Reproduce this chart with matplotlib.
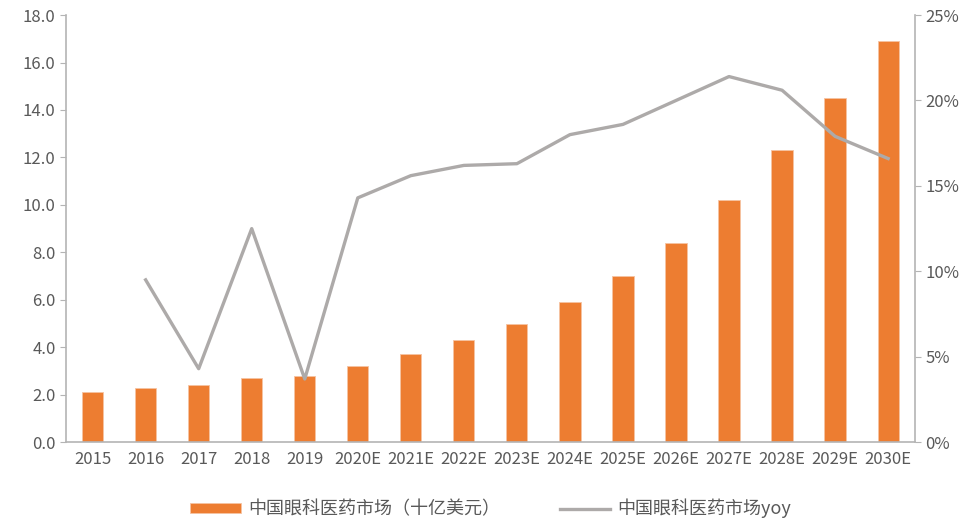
import matplotlib.pyplot as plt
import numpy as np
from matplotlib.ticker import FuncFormatter

plt.rcParams['font.family'] = ['Noto Sans CJK SC', 'DejaVu Sans']

years = ['2015', '2016', '2017', '2018', '2019', '2020E', '2021E', '2022E',
         '2023E', '2024E', '2025E', '2026E', '2027E', '2028E', '2029E', '2030E']
market = [2.1, 2.3, 2.4, 2.7, 2.8, 3.2, 3.7, 4.3, 5.0, 5.9, 7.0, 8.4, 10.2, 12.3, 14.5, 16.9]
# 同比增速(%)，2015年无数据
yoy = [np.nan, 9.5, 4.3, 12.5, 3.7, 14.3, 15.6, 16.2, 16.3, 18.0, 18.6, 20.0, 21.4, 20.6, 17.9, 16.6]

bar_color = '#ED7D31'
line_color = '#ADAAA9'
text_color = '#595959'
axis_color = '#B4B4B4'

fig = plt.figure(figsize=(9.72, 5.19), dpi=100)
ax = fig.add_axes([0.068, 0.148, 0.873, 0.823])
ax2 = ax.twinx()

x = np.arange(len(years))
b = ax.bar(x, market, width=0.4, color=bar_color, edgecolor='#F6C3A2', linewidth=0.6,
           label='中国眼科医药市场（十亿美元）', zorder=2)
l, = ax2.plot(x, yoy, color=line_color, lw=2.4, label='中国眼科医药市场yoy', zorder=3)

ax.set_xlim(-0.5, len(years) - 0.5)
ax.set_ylim(0, 18)
ax.set_yticks(np.arange(0, 18.1, 2))
ax.yaxis.set_major_formatter(FuncFormatter(lambda v, p: '%.1f' % v))
ax2.set_ylim(0, 25)
ax2.set_yticks(np.arange(0, 26, 5))
ax2.yaxis.set_major_formatter(FuncFormatter(lambda v, p: '%d%%' % v))
ax.set_xticks(x)
ax.set_xticklabels(years)

for a in (ax, ax2):
    a.spines['top'].set_visible(False)
    for s in ('left', 'right', 'bottom'):
        a.spines[s].set_color(axis_color)
        a.spines[s].set_linewidth(1.2)
    a.tick_params(axis='y', colors=axis_color, labelcolor=text_color, labelsize=12, length=4)
ax.spines['right'].set_visible(False)
ax2.spines['left'].set_visible(False)
ax2.spines['bottom'].set_visible(False)
ax.tick_params(axis='x', length=0, labelcolor=text_color, labelsize=12, pad=6)
ax.set_zorder(ax2.get_zorder() - 1)
ax2.patch.set_visible(False)

fig.legend([b, l], ['中国眼科医药市场（十亿美元）', '中国眼科医药市场yoy'],
           loc='lower center', bbox_to_anchor=(0.505, -0.03), ncol=2, frameon=False,
           fontsize=13, labelcolor=text_color, handlelength=2.8, handleheight=0.5,
           columnspacing=3.3, handletextpad=0.4)

plt.savefig('out.png', dpi=100)
